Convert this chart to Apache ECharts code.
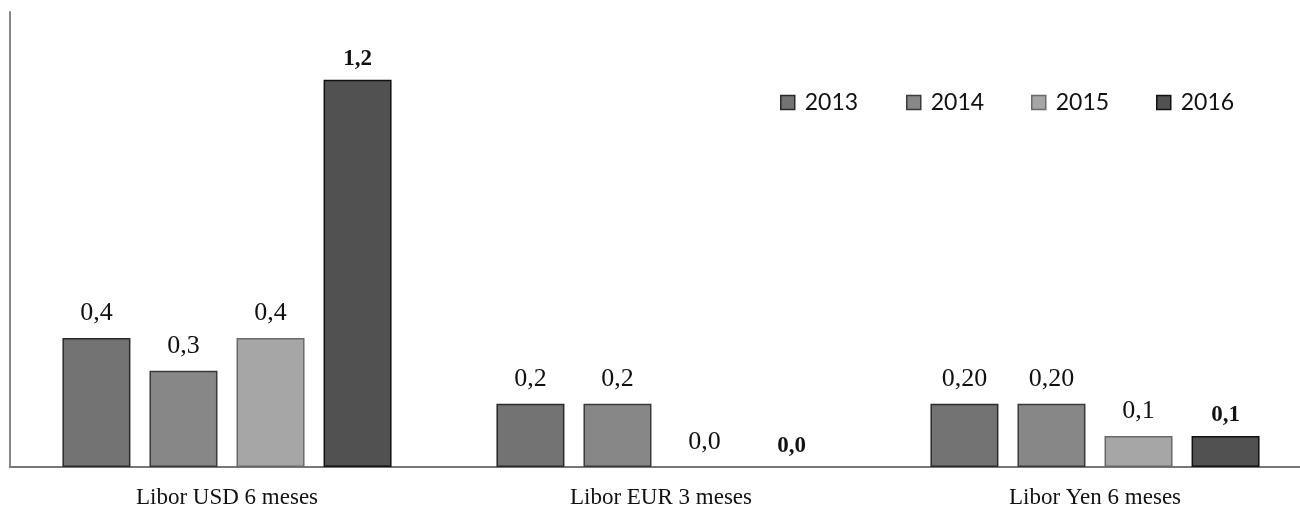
<!DOCTYPE html>
<html>
<head>
<meta charset="utf-8">
<script src="https://cdn.jsdelivr.net/npm/echarts@6/dist/echarts.min.js"></script>
<style>
html,body{margin:0;padding:0;background:#fff;overflow:hidden;}
#c{width:1312px;height:514px;}
</style>
</head>
<body>
<div id="c"></div>
<script>
const categories = ["Libor USD 6 meses", "Libor EUR 3 meses", "Libor Yen 6 meses"];
const years = ["2013", "2014", "2015", "2016"];
const values2013 = [0.4, 0.196, 0.196];
const values2014 = [0.298, 0.196, 0.196];
const values2015 = [0.4, 0.0, 0.096];
const values2016 = [1.2, 0.0, 0.096];
const labels2013 = ["0,4", "0,2", "0,20"];
const labels2014 = ["0,3", "0,2", "0,20"];
const labels2015 = ["0,4", "0,0", "0,1"];
const labels2016 = ["1,2", "0,0", "0,1"];

const seriesValues = [values2013, values2014, values2015, values2016];
const seriesLabels = [labels2013, labels2014, labels2015, labels2016];
const colors = ["#737373", "#878787", "#a6a6a6", "#515151"];
const borders = ["#2a2a2a", "#3a3a3a", "#6a6a6a", "#111111"];
const legendLeft = [775, 901, 1026, 1151];

const chart = echarts.init(document.getElementById('c'), null, {renderer: 'canvas'});

const series = years.map((y, i) => ({
  name: y,
  type: 'bar',
  barWidth: 68,
  barGap: '28%',
  data: seriesValues[i].map((v, j) => {
    const d = {value: v, lbl: seriesLabels[i][j]};
    if (v === 0) d.itemStyle = {borderWidth: 0, borderColor: 'rgba(0,0,0,0)', color: 'rgba(0,0,0,0)'};
    return d;
  }),
  itemStyle: {color: colors[i], borderColor: borders[i], borderWidth: 1.5},
  label: {
    show: true,
    position: 'top',
    distance: i === 3 ? 9 : 12,
    fontFamily: '"Liberation Serif", "DejaVu Serif", serif',
    fontSize: i === 3 ? 23 : 26,
    fontWeight: i === 3 ? 'bold' : 'normal',
    color: '#111',
    formatter: p => p.data.lbl
  }
}));

const legends = years.map((y, i) => ({
  data: [{name: y, itemStyle: {color: colors[i], borderColor: borders[i], borderWidth: 1.5}}],
  left: legendLeft[i],
  top: 86,
  itemWidth: 14,
  itemHeight: 14,
  itemGap: 5,
  icon: 'rect',
  textStyle: {fontFamily: 'Lato, "Open Sans", sans-serif', fontSize: 23, color: '#111', padding: [0,0,0,5]},
  selectedMode: false
}));

chart.setOption({
  animation: false,
  backgroundColor: '#fff',
  color: colors,
  legend: legends,
  grid: {left: 10, right: 0, top: 12, bottom: 47, containLabel: false},
  xAxis: {
    type: 'category',
    data: categories,
    axisLine: {show: true, lineStyle: {color: '#777', width: 2}},
    axisTick: {show: false},
    axisLabel: {
      margin: 19,
      fontFamily: '"Liberation Serif", "DejaVu Serif", serif',
      fontSize: 23,
      color: '#111'
    }
  },
  yAxis: {
    type: 'value',
    min: 0,
    max: 1.41,
    axisLine: {show: true, lineStyle: {color: '#888', width: 2}},
    axisTick: {show: false},
    axisLabel: {show: false},
    splitLine: {show: false}
  },
  series: series
});
</script>
</body>
</html>
